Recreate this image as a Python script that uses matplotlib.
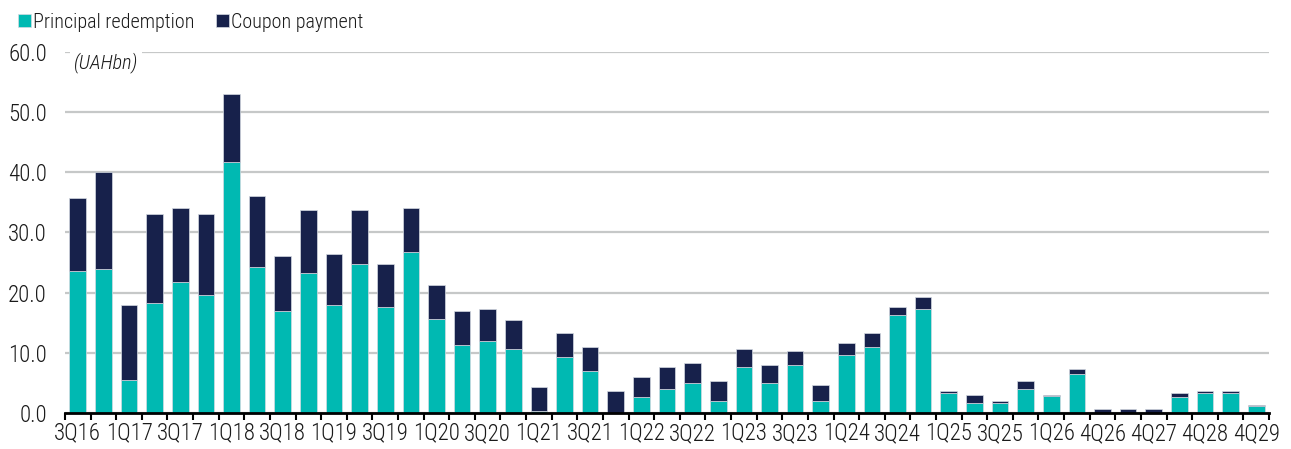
import matplotlib
matplotlib.use("Agg")
import matplotlib.pyplot as plt
import numpy as np

quarters = [
    "3Q16", "4Q16", "1Q17", "2Q17", "3Q17", "4Q17", "1Q18", "2Q18", "3Q18", "4Q18",
    "1Q19", "2Q19", "3Q19", "4Q19", "1Q20", "2Q20", "3Q20", "4Q20", "1Q21", "2Q21",
    "3Q21", "4Q21", "1Q22", "2Q22", "3Q22", "4Q22", "1Q23", "2Q23", "3Q23", "4Q23",
    "1Q24", "2Q24", "3Q24", "4Q24", "1Q25", "2Q25", "3Q25", "4Q25", "1Q26", "2Q26",
    "4Q26", "2Q27", "4Q27", "2Q28", "4Q28", "2Q29", "4Q29",
]

principal = [
    23.5, 23.9, 5.4, 18.3, 21.8, 19.6, 41.7, 24.2, 16.9, 23.2,
    17.9, 24.8, 17.6, 26.8, 15.6, 11.3, 11.9, 10.6, 0.3, 9.3,
    7.0, 0.0, 2.7, 4.0, 5.0, 2.0, 7.7, 5.0, 8.0, 2.0,
    9.7, 11.0, 16.3, 17.3, 3.4, 1.7, 1.7, 4.0, 2.8, 6.4,
    0.0, 0.0, 0.0, 2.7, 3.4, 3.4, 1.1,
]

total = [
    35.7, 40.0, 17.9, 33.1, 34.0, 33.1, 52.9, 36.0, 26.1, 33.7,
    26.4, 33.7, 24.8, 34.0, 21.2, 16.9, 17.2, 15.5, 4.3, 13.3,
    11.0, 3.7, 6.0, 7.6, 8.3, 5.3, 10.6, 8.0, 10.3, 4.6,
    11.6, 13.3, 17.6, 19.2, 3.7, 3.0, 2.0, 5.3, 3.0, 7.3,
    0.7, 0.7, 0.7, 3.3, 3.7, 3.7, 1.3,
]

coupon = [t - p for t, p in zip(total, principal)]

TEAL = "#00B9B2"
NAVY = "#17214B"
GRID = "#C6C8C8"
TEXT = "#1a1a1a"

plt.rcParams["font.family"] = ["Roboto Condensed", "DejaVu Sans"]
plt.rcParams["font.weight"] = 300

fig = plt.figure(figsize=(12.91, 4.49), dpi=100)
ax = fig.add_axes([65 / 1291, 1 - 413 / 449, (1269 - 65) / 1291, (413 - 51.7) / 449])

x = np.arange(len(quarters))
width = 0.65
ax.bar(x, principal, width, color=TEAL, edgecolor="#D5DAE2", linewidth=0.5,
       label="Principal redemption", zorder=3)
ax.bar(x, coupon, width, bottom=principal, color=NAVY, edgecolor="#D5DAE2",
       linewidth=0.5, label="Coupon payment", zorder=3)

ax.set_xlim(-0.5, len(quarters) - 0.5)
ax.set_ylim(0, 60)
ax.set_yticks(np.arange(0, 61, 10))
ax.set_yticklabels([f"{v:.1f}" for v in np.arange(0, 61, 10)])
ax.yaxis.grid(True, color=GRID, linewidth=1.6, zorder=0)
ax.set_axisbelow(True)

ax.set_xticks(x[::2])
ax.set_xticklabels(quarters[::2])
ax.set_xticks(np.arange(-0.5, len(quarters), 1.0), minor=True)
ax.tick_params(axis="x", which="major", length=0, pad=7, labelsize=16.5, colors=TEXT)
ax.tick_params(axis="x", which="minor", length=5, width=1.5, direction="out", color="black")
ax.tick_params(axis="y", length=0, pad=13, labelsize=16.5, colors=TEXT)

for side in ("top", "right", "left"):
    ax.spines[side].set_visible(False)
ax.spines["bottom"].set_linewidth(2.0)
ax.spines["bottom"].set_color("black")
ax.spines["bottom"].set_zorder(4)

ax.text(-0.15, 59.9, "(UAHbn)", style="italic", fontsize=14.5, color=TEXT,
        ha="left", va="top", zorder=5,
        bbox=dict(facecolor="white", edgecolor="none", pad=3))

fig.legend(loc="upper left", bbox_to_anchor=(0.0, 1.012), ncol=2, frameon=False,
           fontsize=14.5, handlelength=0.65, handleheight=0.65, handletextpad=0.1,
           columnspacing=1.05, labelcolor=TEXT)

fig.savefig("out.png", dpi=100)
